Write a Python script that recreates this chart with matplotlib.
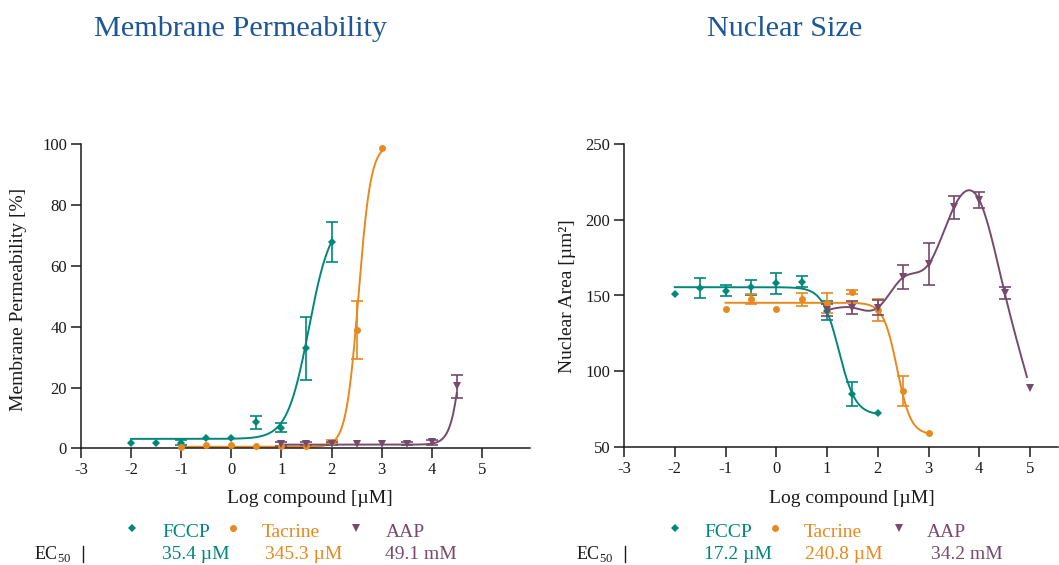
import numpy as np
import matplotlib
matplotlib.use("Agg")
import matplotlib.pyplot as plt

plt.rcParams['font.family'] = ['Liberation Serif', 'DejaVu Serif']
plt.rcParams['mathtext.fontset'] = 'custom'
plt.rcParams['mathtext.rm'] = 'Liberation Serif'
plt.rcParams['axes.unicode_minus'] = False

W, H = 1059, 565

TEAL = '#00877b'
ORANGE = '#e8891d'
PURPLE = '#77496c'
TITLE_BLUE = '#1d5798'
INK = '#1a1a1a'

compounds = ['FCCP', 'Tacrine', 'AAP']
markers = ['D', 'o', 'v']
marker_sizes = [4.2, 5.0, 5.6]
colors = [TEAL, ORANGE, PURPLE]

# ---- Membrane permeability (%) ----
mp_fccp_x = [-2, -1.5, -1, -0.5, 0, 0.5, 1, 1.5, 2]
mp_fccp_y = [1.9, 1.9, 1.9, 3.3, 3.3, 8.5, 6.8, 32.9, 67.9]
mp_fccp_err = [0, 0, 0.8, 0, 0, 2.0, 1.4, 10.4, 6.6]

mp_tac_x = [-1, -0.5, 0, 0.5, 1, 1.5, 2, 2.5, 3]
mp_tac_y = [0.5, 1.0, 1.0, 0.9, 0.6, 0.7, 2.2, 39.0, 98.8]
mp_tac_err = [0, 0, 0, 0, 0, 0, 0.5, 9.6, 0]

mp_aap_x = [1, 1.5, 2, 2.5, 3, 3.5, 4, 4.5]
mp_aap_y = [1.5, 1.5, 1.5, 1.3, 1.5, 1.5, 2.0, 20.4]
mp_aap_err = [0.6, 0.5, 0.5, 0, 0, 0.5, 0.8, 3.7]

# four-parameter logistic fits: bottom, top, EC50 (µM), Hill slope, fitted range
mp_fit_bottom = [3.1, 0.5, 1.2]
mp_fit_top = [76.0, 100.0, 100.0]
mp_ec50_uM = [35.4, 345.3, 49100.0]
mp_fit_hill = [2.0, 3.5, 3.57]
mp_fit_range = [(-2, 2), (-1, 3), (1, 4.5)]
mp_ec50_text = ['35.4 µM', '345.3 µM', '49.1 mM']

# ---- Nuclear area (µm²) ----
ns_fccp_x = [-2, -1.5, -1, -0.5, 0, 0.5, 1, 1.5, 2]
ns_fccp_y = [151.2, 155.2, 153.2, 155.4, 158.0, 159.2, 140.0, 84.8, 72.0]
ns_fccp_err = [0, 6.6, 3.7, 4.9, 7.0, 3.7, 6.5, 7.7, 0]

ns_tac_x = [-1, -0.5, 0, 0.5, 1, 1.5, 2, 2.5, 3]
ns_tac_y = [140.8, 147.5, 141.3, 147.5, 145.0, 152.3, 140.4, 86.8, 59.3]
ns_tac_err = [0, 3.4, 0, 4.4, 6.5, 1.5, 7.0, 9.8, 0]

ns_aap_x = [1, 1.5, 2, 2.5, 3, 3.5, 4, 4.5, 5]
ns_aap_y = [140.4, 142.0, 142.0, 162.0, 170.6, 208.3, 213.2, 151.9, 89.0]
ns_aap_err = [4.0, 4.5, 5.0, 8.0, 13.8, 7.5, 5.0, 4.0, 0]

ns_fit_bottom = [71.0, 58.0]
ns_fit_top = [155.5, 145.2]
ns_ec50_uM = [17.2, 240.8]
ns_fit_hill = [2.66, 3.2]
ns_fit_range = [(-2, 2), (-1, 3)]
ns_ec50_text = ['17.2 µM', '240.8 µM', '34.2 mM']


def logistic(x, bottom, top, ec50, hill, rising=True):
    s = 1.0 if rising else -1.0
    return bottom + (top - bottom) / (1.0 + 10 ** (s * (np.log10(ec50) - x) * hill))


def natural_spline(xk, yk, xs):
    xk = np.asarray(xk, float)
    yk = np.asarray(yk, float)
    n = len(xk)
    h = np.diff(xk)
    A = np.zeros((n, n))
    b = np.zeros(n)
    A[0, 0] = A[-1, -1] = 1.0
    for i in range(1, n - 1):
        A[i, i - 1] = h[i - 1]
        A[i, i] = 2 * (h[i - 1] + h[i])
        A[i, i + 1] = h[i]
        b[i] = 6 * ((yk[i + 1] - yk[i]) / h[i] - (yk[i] - yk[i - 1]) / h[i - 1])
    M = np.linalg.solve(A, b)
    idx = np.clip(np.searchsorted(xk, xs) - 1, 0, n - 2)
    x0, x1 = xk[idx], xk[idx + 1]
    hh = x1 - x0
    t0, t1 = x1 - xs, xs - x0
    return (M[idx] * t0 ** 3 / (6 * hh) + M[idx + 1] * t1 ** 3 / (6 * hh)
            + (yk[idx] / hh - M[idx] * hh / 6) * t0
            + (yk[idx + 1] / hh - M[idx + 1] * hh / 6) * t1)


def px_box(x0, y_top, x1, y_bot):
    return [x0 / W, 1 - y_bot / H, (x1 - x0) / W, (y_bot - y_top) / H]


def fpos(x, y):
    return x / W, 1 - y / H


def style_axes(ax, yticks):
    for s in ('top', 'right'):
        ax.spines[s].set_visible(False)
    for s in ('left', 'bottom'):
        ax.spines[s].set_linewidth(1.1)
        ax.spines[s].set_color(INK)
    ax.set_xticks(range(-3, 6))
    ax.set_yticks(yticks)
    ax.tick_params(direction='out', length=7, width=1.1, colors=INK,
                   labelsize=12, pad=3)


def draw_points(ax, x, y, err, color, marker, ms):
    x = np.asarray(x, float)
    y = np.asarray(y, float)
    err = np.asarray(err, float)
    has = err > 0
    if has.any():
        ax.errorbar(x[has], y[has], yerr=err[has], fmt='none', ecolor=color,
                    elinewidth=1.2, capsize=4, capthick=1.2, clip_on=False,
                    zorder=3)
    ax.plot(x, y, ls='none', marker=marker, color=color, ms=ms, mew=0,
            clip_on=False, zorder=4)


fig = plt.figure(figsize=(W / 100, H / 100), dpi=100)

# ---- left panel ----
ax1 = fig.add_axes(px_box(81, 144.3, 530, 448.3))
ax1.set_xlim(-3, -3 + (530 - 81) / 50.1)
ax1.set_ylim(0, 100)
style_axes(ax1, range(0, 101, 20))

mp_sets = [(mp_fccp_x, mp_fccp_y, mp_fccp_err),
           (mp_tac_x, mp_tac_y, mp_tac_err),
           (mp_aap_x, mp_aap_y, mp_aap_err)]
for i, (x, y, e) in enumerate(mp_sets):
    lo, hi = mp_fit_range[i]
    xs = np.linspace(lo, hi, 300)
    ax1.plot(xs, logistic(xs, mp_fit_bottom[i], mp_fit_top[i], mp_ec50_uM[i],
                          mp_fit_hill[i]), color=colors[i], lw=1.4, zorder=2,
             clip_on=False)
    draw_points(ax1, x, y, e, colors[i], markers[i], marker_sizes[i])

# ---- right panel ----
ax2 = fig.add_axes(px_box(624, 144.3, 1058, 446.7))
ax2.set_xlim(-3, -3 + (1058 - 624) / 50.75)
ax2.set_ylim(50, 250)
style_axes(ax2, range(50, 251, 50))

ns_sets = [(ns_fccp_x, ns_fccp_y, ns_fccp_err),
           (ns_tac_x, ns_tac_y, ns_tac_err),
           (ns_aap_x, ns_aap_y, ns_aap_err)]
for i, (x, y, e) in enumerate(ns_sets):
    if i < 2:
        lo, hi = ns_fit_range[i]
        xs = np.linspace(lo, hi, 300)
        ys = logistic(xs, ns_fit_bottom[i], ns_fit_top[i], ns_ec50_uM[i],
                      ns_fit_hill[i], rising=False)
    else:
        xs = np.linspace(x[0], x[-1] - 0.06, 400)
        ys = natural_spline(x, y, xs)
    ax2.plot(xs, ys, color=colors[i], lw=1.4, zorder=2, clip_on=False)
    draw_points(ax2, x, y, e, colors[i], markers[i], marker_sizes[i])

# ---- titles and axis labels ----
fig.text(*fpos(240, 36), 'Membrane Permeability', color=TITLE_BLUE,
         fontsize=21.8, ha='center', va='baseline')
fig.text(*fpos(785, 36), 'Nuclear Size', color=TITLE_BLUE,
         fontsize=21.8, ha='center', va='baseline')

fig.text(*fpos(310, 503), 'Log compound [µM]', color=INK, fontsize=14,
         ha='center', va='baseline')
fig.text(*fpos(852, 503), 'Log compound [µM]', color=INK, fontsize=14,
         ha='center', va='baseline')
fig.text(*fpos(19, 299), 'Membrane Permeability [%]', color=INK, fontsize=14,
         rotation=90, ha='center', va='center')
fig.text(*fpos(567, 296), 'Nuclear Area [µm²]', color=INK, fontsize=14,
         rotation=90, ha='center', va='center')

# ---- legends with EC50 values ----
legend_layout = [
    dict(marker_x=[132, 233, 356], text_x=[162, 262, 386], value_x=[162, 265, 385],
         ec_x=34, bar_x=83, values=mp_ec50_text),
    dict(marker_x=[675, 775, 899], text_x=[704, 804, 927], value_x=[704, 805, 931],
         ec_x=576, bar_x=625, values=ns_ec50_text),
]
for lay in legend_layout:
    for i in range(3):
        fig.lines.append(plt.Line2D([lay['marker_x'][i] / W], [1 - 528 / H],
                                    marker=markers[i], color=colors[i],
                                    ms=marker_sizes[i], mew=0, ls='none',
                                    transform=fig.transFigure))
        fig.text(*fpos(lay['text_x'][i], 537), compounds[i], color=colors[i],
                 fontsize=14, ha='left', va='baseline')
        fig.text(*fpos(lay['value_x'][i], 559), lay['values'][i], color=colors[i],
                 fontsize=14, ha='left', va='baseline')
    fig.text(*fpos(lay['ec_x'], 559), r'EC$_{\mathrm{50}}$', color=INK,
             fontsize=13, ha='left', va='baseline')
    fig.lines.append(plt.Line2D([lay['bar_x'] / W] * 2, [1 - 546 / H, 1 - 562 / H],
                                color=INK, lw=1.0, transform=fig.transFigure))

fig.savefig('out.png', dpi=100)
